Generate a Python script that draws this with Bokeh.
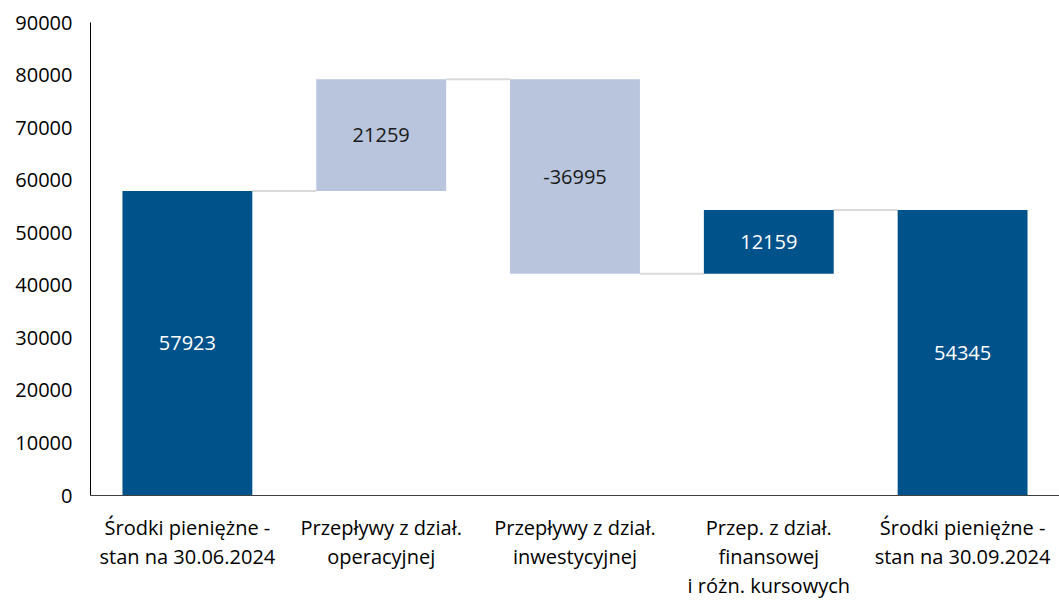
from bokeh.plotting import figure
from bokeh.models import ColumnDataSource, Range1d, FixedTicker, LinearAxis
from bokeh.core.properties import value
from bokeh.embed import file_html
from bokeh.resources import INLINE

label_line1 = ["Środki pieniężne -", "Przepływy z dział.", "Przepływy z dział.", "Przep. z dział.", "Środki pieniężne -"]
label_line2 = ["stan na 30.06.2024", "operacyjnej", "inwestycyjnej", "finansowej", "stan na 30.09.2024"]
label_line3 = ["", "", "", "i różn. kursowych", ""]
values = [57923, 21259, -36995, 12159, 54345]
kinds = ["total", "delta", "delta", "delta", "total"]
y_ticks = [0, 10000, 20000, 30000, 40000, 50000, 60000, 70000, 80000, 90000]

DARK = "#00528B"
LIGHT = "#B8C5DC"
FONT = "Open Sans"
BAR_W = 0.67

n = len(values)
xs = [i + 0.5 for i in range(n)]

# waterfall geometry derived from values
bottoms, tops, colors, txtcol, levels = [], [], [], [], []
running = 0
for i, (v, k) in enumerate(zip(values, kinds)):
    if k == "total":
        b, t = 0, v
        running = v
    else:
        b, t = (running, running + v) if v >= 0 else (running + v, running)
        running = running + v
    levels.append(running)
    bottoms.append(b)
    tops.append(t)
    dark = (k == "total") or i == 3
    colors.append(DARK if dark else LIGHT)
    txtcol.append("#FFFFFF" if dark else "#1a1a1a")

src = ColumnDataSource(dict(
    x=xs, bottom=bottoms, top=tops, color=colors,
    mid=[(b + t) / 2 for b, t in zip(bottoms, tops)],
    label=[str(v) for v in values], tcol=txtcol,
))
con = ColumnDataSource(dict(
    x0=[x + BAR_W / 2 for x in xs[:-1]],
    x1=[x - BAR_W / 2 for x in xs[1:]],
    y=levels[:-1],
))

p = figure(
    x_range=Range1d(0, n), y_range=Range1d(0, 90000),
    width=1059, height=601, output_backend="svg", toolbar_location=None,
    min_border_left=90, min_border_right=0, min_border_top=22, min_border_bottom=0,
    x_axis_location=None,
)
p.outline_line_color = None
p.xgrid.grid_line_color = None
p.ygrid.grid_line_color = None

p.segment(x0="x0", x1="x1", y0="y", y1="y", source=con, line_color="#D9D9D9", line_width=2)
p.vbar(x="x", bottom="bottom", top="top", width=BAR_W, source=src,
       fill_color="color", line_color=None)
p.text(x="x", y="mid", text="label", source=src, text_color="tcol",
       text_align="center", text_baseline="middle",
       text_font=value(FONT), text_font_size="20px")

p.yaxis.ticker = FixedTicker(ticks=y_ticks)
p.yaxis.major_tick_line_color = None
p.yaxis.minor_tick_line_color = None
p.yaxis.axis_line_color = "#000000"
p.yaxis.major_label_text_font = FONT
p.yaxis.major_label_text_font_size = "20px"
p.yaxis.major_label_text_color = "#000000"
p.yaxis.major_label_standoff = 12

for j, lines in enumerate([label_line1, label_line2, label_line3]):
    ax = LinearAxis(ticker=FixedTicker(ticks=xs),
                    major_label_overrides={x: s for x, s in zip(xs, lines)})
    ax.major_tick_line_color = None
    ax.minor_tick_line_color = None
    ax.major_tick_out = 0
    ax.major_tick_in = 0
    ax.axis_line_color = "#404040" if j == 0 else None
    ax.major_label_text_font = FONT
    ax.major_label_text_font_size = "20px"
    ax.major_label_text_color = "#000000"
    ax.major_label_standoff = 18 if j == 0 else -1
    p.add_layout(ax, "below")

open("out.html", "w").write(file_html(p, INLINE))
